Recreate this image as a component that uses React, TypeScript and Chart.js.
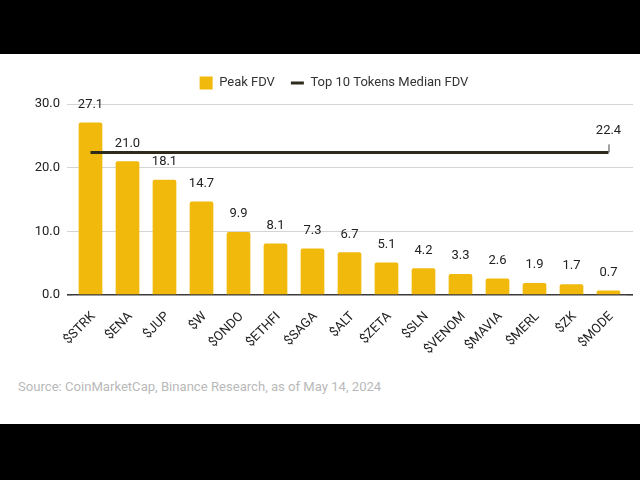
import React, { useEffect, useRef } from "react";
import { Chart, registerables } from "chart.js";

Chart.register(...registerables);

const categories = ["$STRK", "$ENA", "$JUP", "$W", "$ONDO", "$ETHFI", "$SAGA", "$ALT", "$ZETA", "$SLN", "$VENOM", "$MAVIA", "$MERL", "$ZK", "$MODE"];
const peakFdv = [27.1, 21.0, 18.1, 14.7, 9.9, 8.1, 7.3, 6.7, 5.1, 4.2, 3.3, 2.6, 1.9, 1.7, 0.7];
const medianFdv = [22.4, 22.4, 22.4, 22.4, 22.4, 22.4, 22.4, 22.4, 22.4, 22.4, 22.4, 22.4, 22.4, 22.4, 22.4];
const seriesNames = ["Peak FDV", "Top 10 Tokens Median FDV"];
const yMin = 0;
const yMax = 30;
const yStep = 10;
const sourceNote = "Source: CoinMarketCap, Binance Research, as of May 14, 2024";

const BAR_COLOR = "#F0B90B";
const LINE_COLOR = "#2e2a1c";
const FONT = "Roboto";

const gridColor = (ctx: any) => (ctx.tick && ctx.tick.value === 0 ? "#3a3a3a" : "#d4d4d4");
const gridWidth = (ctx: any) => (ctx.tick && ctx.tick.value === 0 ? 1.6 : 1);

const legendPad = {
  id: "legendPad",
  beforeLayout(chart: any) {
    const lg = chart.legend;
    if (lg && !lg.__patched) {
      const f = lg.fit;
      lg.fit = function () {
        f.call(this);
        if (this.height) this.height += 4.5;
      };
      lg.__patched = true;
    }
  },
};

const valueLabels = {
  id: "valueLabels",
  afterDatasetsDraw(chart: any) {
    const ctx = chart.ctx;
    ctx.save();
    ctx.font = `13px ${FONT}`;
    ctx.fillStyle = "#222";
    ctx.textAlign = "center";
    ctx.textBaseline = "middle";
    const m0 = chart.getDatasetMeta(0);
    m0.data.forEach((el: any, i: number) => {
      ctx.fillText(peakFdv[i].toFixed(1), el.x, el.y - 18);
    });
    const m1 = chart.getDatasetMeta(1);
    const li = m1.data.length - 1;
    const last = m1.data[li];
    if (last) {
      ctx.fillText(medianFdv[li].toFixed(1), last.x, last.y - 22);
      ctx.strokeStyle = "#444";
      ctx.lineWidth = 1;
      ctx.beginPath();
      ctx.moveTo(last.x + 0.5, last.y - 8);
      ctx.lineTo(last.x + 0.5, last.y);
      ctx.stroke();
    }
    ctx.restore();
  },
};

export default function App() {
  const ref = useRef<HTMLCanvasElement>(null);

  useEffect(() => {
    if (!ref.current) return;
    const chart = new Chart(ref.current, {
      type: "bar",
      data: {
        labels: categories,
        datasets: [
          {
            type: "bar",
            label: seriesNames[0],
            data: peakFdv,
            order: 2,
            backgroundColor: BAR_COLOR,
            borderWidth: 0,
            borderRadius: 2,
            borderSkipped: "bottom",
            categoryPercentage: 0.8,
            barPercentage: 0.8,
            pointStyle: "rect",
            yAxisID: "y",
          } as any,
          {
            type: "line",
            label: seriesNames[1],
            data: medianFdv,
            order: 1,
            borderColor: LINE_COLOR,
            backgroundColor: LINE_COLOR,
            borderWidth: 3,
            pointRadius: 0,
            pointStyle: "line",
            tension: 0,
            yAxisID: "y",
          } as any,
        ],
      },
      options: {
        responsive: false,
        animation: false,
        layout: { padding: { top: 6.5, left: 35, right: 7, bottom: 0 } },
        plugins: {
          tooltip: { enabled: false },
          legend: {
            display: true,
            position: "top",
            labels: {
              usePointStyle: true,
              pointStyleWidth: 13,
              boxWidth: 13,
              boxHeight: 13,
              padding: 16,
              color: "#333",
              font: { family: FONT, size: 13 },
              sort: (a: any, b: any) => a.datasetIndex - b.datasetIndex,
            },
          },
        },
        scales: {
          x: {
            grid: { display: false },
            border: { display: false },
            ticks: {
              color: "#222",
              font: { family: FONT, size: 13 },
              maxRotation: 45,
              minRotation: 45,
              autoSkip: false,
              padding: 6,
              labelOffset: 3,
            },
            afterFit: (s: any) => {
              s.height = 79;
            },
          },
          y: {
            min: yMin,
            max: yMax,
            border: { display: false },
            grid: { color: gridColor, lineWidth: gridWidth, drawTicks: true, tickLength: 5 },
            ticks: {
              stepSize: yStep,
              padding: 7,
              color: "#222",
              font: { family: FONT, size: 13 },
              callback: (v: any) => Number(v).toFixed(1),
            },
            afterFit: (s: any) => {
              s.width = 37;
            },
          },
          y2: {
            type: "linear",
            position: "right",
            min: yMin,
            max: yMax,
            border: { display: false },
            grid: { color: gridColor, lineWidth: gridWidth, drawOnChartArea: false, drawTicks: true, tickLength: 6 },
            ticks: { stepSize: yStep, display: false },
            afterFit: (s: any) => {
              s.width = 6;
            },
          },
        },
      } as any,
      plugins: [legendPad, valueLabels],
    });
    return () => chart.destroy();
  }, []);

  return (
    <div style={{ position: "fixed", left: 0, top: 0, width: 640, height: 480, background: "#000", overflow: "hidden" }}>
      <div style={{ position: "absolute", left: 0, top: 54, width: 640, height: 370, background: "#fff" }}>
        <canvas ref={ref} width={640} height={320} style={{ position: "absolute", left: 0, top: 0, width: 640, height: 320 }} />
        <div
          style={{
            position: "absolute",
            left: 18,
            top: 324,
            fontFamily: FONT,
            fontSize: 13.1,
            lineHeight: "18px",
            color: "#b9b9b9",
            whiteSpace: "nowrap",
          }}
        >
          {sourceNote}
        </div>
      </div>
    </div>
  );
}
